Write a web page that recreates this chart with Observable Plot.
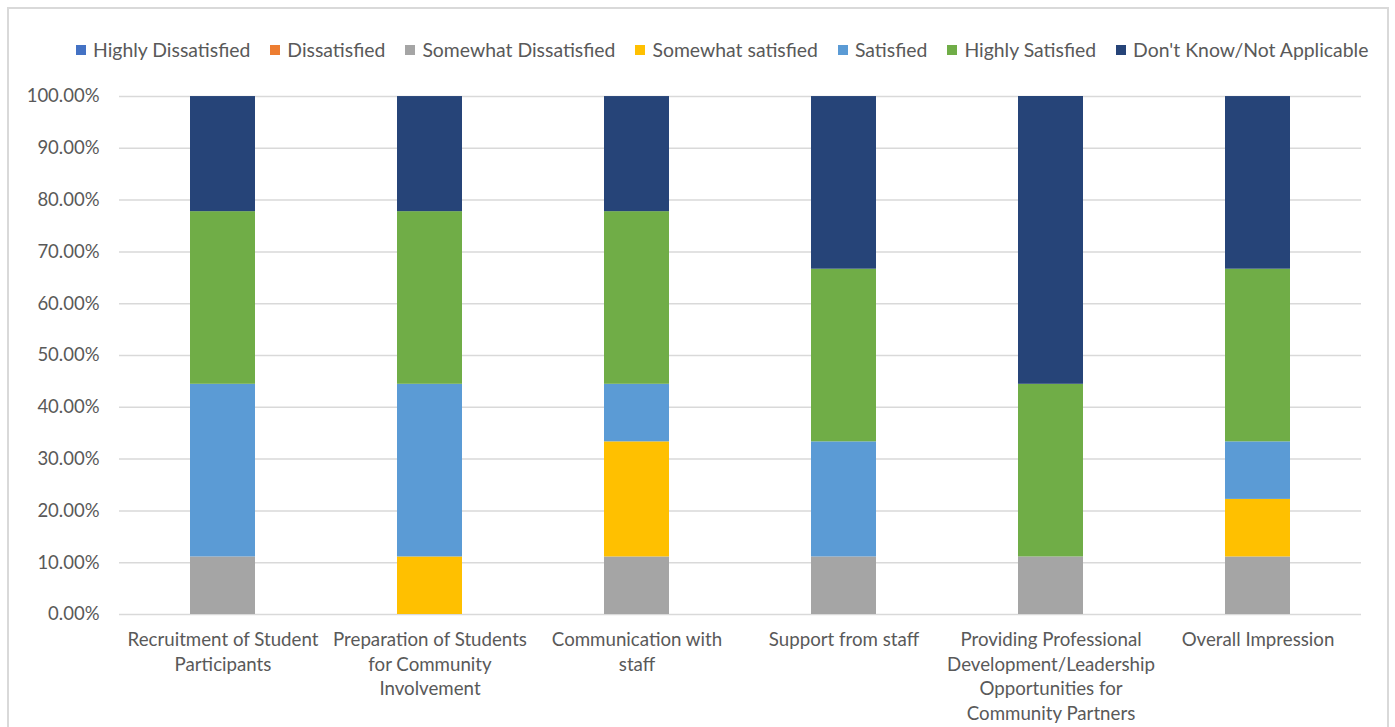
<!DOCTYPE html>
<html>
<head>
<meta charset="utf-8">
<script src="https://cdn.jsdelivr.net/npm/d3@7"></script>
<script src="https://cdn.jsdelivr.net/npm/@observablehq/plot@0.6"></script>
<style>
  html, body { margin: 0; padding: 0; background: #fff; }
  body { width: 1395px; height: 727px; position: relative; overflow: hidden; font-family: Lato, "Open Sans", sans-serif; }
  #frame { position: absolute; left: 7px; top: 7px; width: 1382px; height: 760px; border: 2px solid #d9d9d9; box-sizing: border-box; }
  #legend { position: absolute; left: 76px; top: 38px; display: flex; gap: 20px; font-size: 19.4px; color: #595959; white-space: nowrap; }
  #legend .item { display: flex; align-items: center; gap: 7px; }
  #legend .sw { width: 10px; height: 10px; display: inline-block; }
  #chart { position: absolute; left: 0; top: 70px; }
</style>
</head>
<body>
<div id="frame"></div>
<div id="legend"></div>
<div id="chart"></div>
<script>
// Survey items (x categories)
const categories = [
  "Recruitment of Student Participants",
  "Preparation of Students for Community Involvement",
  "Communication with staff",
  "Support from staff",
  "Providing Professional Development/Leadership Opportunities for Community Partners",
  "Overall Impression"
];

// Line-broken versions of the category labels
const wrappedLabels = [
  "Recruitment of Student\nParticipants",
  "Preparation of Students\nfor Community\nInvolvement",
  "Communication with\nstaff",
  "Support from staff",
  "Providing Professional\nDevelopment/Leadership\nOpportunities for\nCommunity Partners",
  "Overall Impression"
];

// Response levels, bottom to top of each stack
const responses = [
  "Highly Dissatisfied",
  "Dissatisfied",
  "Somewhat Dissatisfied",
  "Somewhat satisfied",
  "Satisfied",
  "Highly Satisfied",
  "Don't Know/Not Applicable"
];
const colors = ["#4472C4", "#ED7D31", "#A5A5A5", "#FFC000", "#5B9BD5", "#70AD47", "#264478"];

// Percent of respondents per item
const highlyDissatisfied    = [0, 0, 0, 0, 0, 0];
const dissatisfied          = [0, 0, 0, 0, 0, 0];
const somewhatDissatisfied  = [11.11, 0, 11.11, 11.11, 11.11, 11.11];
const somewhatSatisfied     = [0, 11.11, 22.22, 0, 0, 11.11];
const satisfied             = [33.33, 33.33, 11.11, 22.22, 0, 11.11];
const highlySatisfied       = [33.33, 33.33, 33.33, 33.33, 33.33, 33.33];
const dontKnow              = [22.22, 22.22, 22.22, 33.33, 55.56, 33.33];

const yTicks = [0, 10, 20, 30, 40, 50, 60, 70, 80, 90, 100];

const series = [highlyDissatisfied, dissatisfied, somewhatDissatisfied, somewhatSatisfied, satisfied, highlySatisfied, dontKnow];
const rows = [];
series.forEach((vals, si) => {
  vals.forEach((v, ci) => rows.push({category: categories[ci], response: responses[si], value: v}));
});

// Legend
const legend = document.getElementById("legend");
responses.forEach((r, i) => {
  const item = document.createElement("span");
  item.className = "item";
  const sw = document.createElement("span");
  sw.className = "sw";
  sw.style.background = colors[i];
  const label = document.createElement("span");
  label.textContent = r;
  item.append(sw, label);
  legend.append(item);
});

const chart = Plot.plot({
  width: 1395,
  height: 660,
  marginLeft: 119,
  marginRight: 34,
  marginTop: 26,
  marginBottom: 116,
  style: {fontFamily: "Lato, 'Open Sans', sans-serif", fontSize: "18.5px", color: "#595959", background: "transparent"},
  x: {domain: categories, paddingInner: 0.686, paddingOuter: 0.343, label: null},
  y: {domain: [0, 100], label: null},
  color: {domain: responses, range: colors},
  marks: [
    Plot.gridY(yTicks, {stroke: "#d9d9d9", strokeOpacity: 1, strokeWidth: 1.5}),
    Plot.barY(rows, Plot.stackY({order: responses, x: "category", y: "value", fill: "response"})),
    Plot.axisY(yTicks, {tickSize: 0, tickPadding: 20, tickFormat: d => d.toFixed(2) + "%", fontSize: 18.5, label: null}),
    Plot.axisX({tickSize: 0, tickPadding: 14, lineAnchor: "top", lineHeight: 1.32, fontSize: 18.7,
      tickFormat: d => wrappedLabels[categories.indexOf(d)], label: null})
  ]
});
document.getElementById("chart").append(chart);
</script>
</body>
</html>
